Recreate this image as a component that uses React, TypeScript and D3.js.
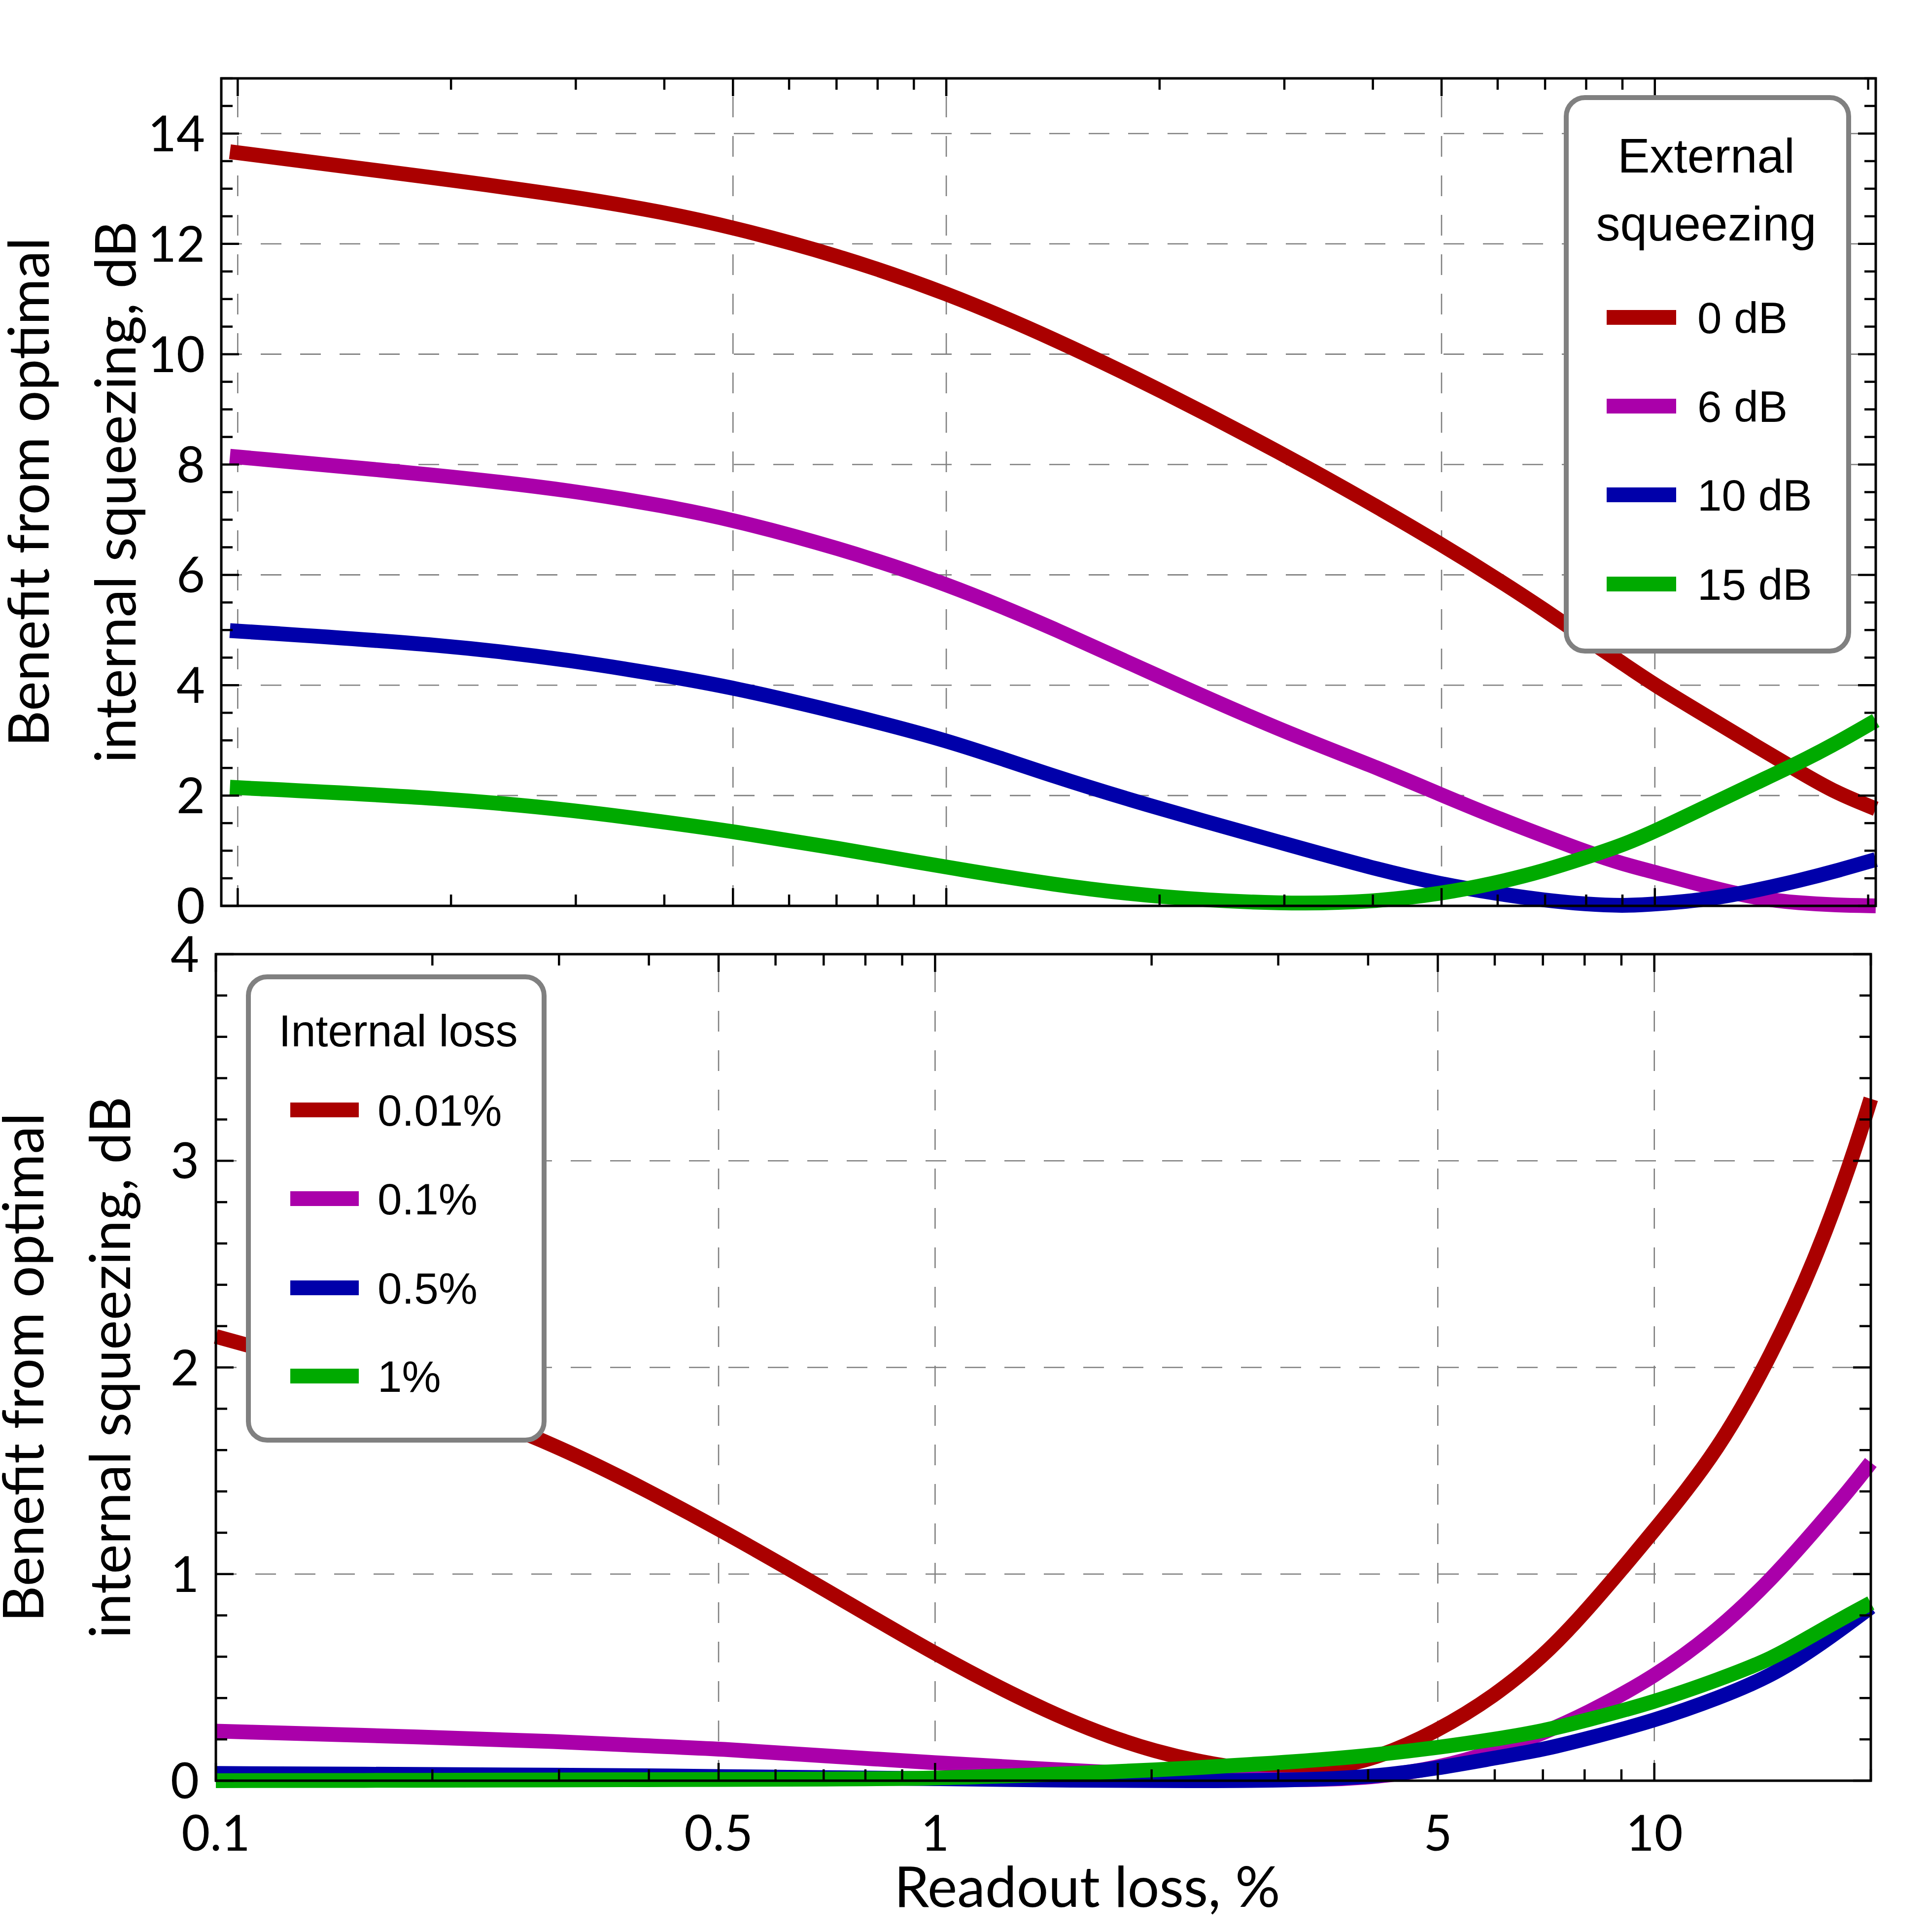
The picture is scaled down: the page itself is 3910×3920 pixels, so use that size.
import React from 'react';
import * as d3 from 'd3';

// ---------- data ----------
const topX = [0.0975, 0.2, 0.3, 0.4, 0.5, 0.7, 1, 1.42, 2, 3, 4, 5, 6, 7, 8, 9, 10, 12, 14, 16, 18, 20.5];
const top0dB = [13.67, 13.16, 12.85, 12.57, 12.3, 11.8, 11.12, 10.28, 9.36, 8.18, 7.28, 6.55, 5.92, 5.36, 4.84, 4.4, 4.0, 3.39, 2.87, 2.43, 2.05, 1.76];
const top6dB = [8.15, 7.79, 7.52, 7.25, 7.0, 6.5, 5.85, 5.03, 4.15, 3.15, 2.54, 2.01, 1.59, 1.26, 0.98, 0.76, 0.61, 0.33, 0.13, 0.05, 0.015, 0.0];
const top10dB = [4.99, 4.73, 4.44, 4.18, 3.96, 3.52, 3.02, 2.34, 1.76, 1.13, 0.68, 0.39, 0.22, 0.1, 0.03, 0.0, 0.03, 0.12, 0.29, 0.46, 0.63, 0.84];
const top15dB = [2.15, 1.95, 1.73, 1.52, 1.35, 1.05, 0.7, 0.38, 0.15, 0.03, 0.07, 0.22, 0.42, 0.64, 0.88, 1.1, 1.35, 1.84, 2.25, 2.6, 2.94, 3.36];
const topLabels = ['0 dB', '6 dB', '10 dB', '15 dB'];

const botX = [0.1, 0.2, 0.3, 0.4, 0.5, 0.7, 1, 1.43, 2, 3, 4, 5, 6, 7, 8, 10, 12.3, 14.6, 16.7, 18.8, 20];
const bot001 = [2.15, 1.86, 1.62, 1.4, 1.22, 0.93, 0.61, 0.33, 0.13, 0.02, 0.085, 0.24, 0.41, 0.6, 0.81, 1.21, 1.6, 2.07, 2.51, 3.0, 3.3];
const bot01 = [0.24, 0.21, 0.19, 0.168, 0.155, 0.12, 0.087, 0.055, 0.03, 0.0, 0.01, 0.06, 0.14, 0.23, 0.32, 0.5, 0.73, 0.98, 1.21, 1.42, 1.54];
const bot05 = [0.035, 0.03, 0.027, 0.024, 0.02, 0.015, 0.01, 0.003, 0.0, 0.0, 0.015, 0.06, 0.11, 0.15, 0.2, 0.29, 0.4, 0.51, 0.64, 0.77, 0.84];
const bot1 = [0.0, 0.002, 0.004, 0.005, 0.006, 0.008, 0.01, 0.03, 0.05, 0.085, 0.12, 0.16, 0.2, 0.24, 0.29, 0.38, 0.49, 0.59, 0.71, 0.81, 0.86];
const botLabels = ['0.01%', '0.1%', '0.5%', '1%'];

const colors = ['#aa0000', '#aa00aa', '#0000aa', '#00aa00'];

const xMajor = [0.1, 0.5, 1, 5, 10];
const xMajorLabels = ['0.1', '0.5', '1', '5', '10'];
const xMinor = [0.2, 0.3, 0.4, 0.6, 0.7, 0.8, 0.9, 2, 3, 4, 6, 7, 8, 9, 20];

const topYMajor = [0, 2, 4, 6, 8, 10, 12, 14];
const topYMinor = d3.range(0, 15.01, 0.5).filter((v) => Math.abs(v % 2) > 1e-6);
const botYMajor = [0, 1, 2, 3, 4];
const botYMinor = d3.range(0, 4.01, 0.2).filter((v) => Math.abs(v - Math.round(v)) > 1e-6);

const yLabel1 = 'Benefit from optimal';
const yLabel2 = 'internal squeezing, dB';
const xLabel = 'Readout loss, %';

const axisFont = "Lato, 'DejaVu Sans', sans-serif";
const legendFont = "'Liberation Sans', Arial, sans-serif";

type PanelProps = {
  x: d3.ScaleLogarithmic<number, number>;
  y: d3.ScaleLinear<number, number>;
  xs: number[];
  series: number[][];
  yMajor: number[];
  yMinor: number[];
  yLabelRight: number;
  showXLabels: boolean;
};

function Panel({ x, y, xs, series, yMajor, yMinor, yLabelRight, showXLabels }: PanelProps) {
  const [x0, x1] = x.range();
  const [yb, yt] = y.range();
  const dom = x.domain();
  const inX = (v: number) => v >= dom[0] && v <= dom[1] * 1.0001;
  const line = d3
    .line<number>()
    .x((_, i) => x(xs[i]))
    .y((d) => y(d))
    .curve(d3.curveBasis);
  const majL = 36;
  const minL = 23;
  const tickW = 4.5;
  return (
    <g>
      {/* grid */}
      <g stroke="#808080" strokeWidth={2.6} strokeDasharray="42,38" fill="none">
        {xMajor.filter(inX).map((v) => (
          <line key={'gx' + v} x1={x(v)} x2={x(v)} y1={yb} y2={yt} />
        ))}
        {yMajor.map((v) => (
          <line key={'gy' + v} x1={x0} x2={x1} y1={y(v)} y2={y(v)} />
        ))}
      </g>
      {/* series */}
      {series.map((s, i) => (
        <path key={'s' + i} d={line(s) || ''} fill="none" stroke={colors[i]} strokeWidth={30} strokeLinecap="butt" strokeLinejoin="round" />
      ))}
      {/* frame and ticks */}
      <rect x={x0} y={yt} width={x1 - x0} height={yb - yt} fill="none" stroke="#000" strokeWidth={5} />
      <g stroke="#000" strokeWidth={tickW}>
        {xMajor.filter(inX).map((v) => (
          <g key={'tx' + v}>
            <line x1={x(v)} x2={x(v)} y1={yb} y2={yb - majL} />
            <line x1={x(v)} x2={x(v)} y1={yt} y2={yt + majL} />
          </g>
        ))}
        {xMinor.filter(inX).map((v) => (
          <g key={'tmx' + v}>
            <line x1={x(v)} x2={x(v)} y1={yb} y2={yb - minL} />
            <line x1={x(v)} x2={x(v)} y1={yt} y2={yt + minL} />
          </g>
        ))}
        {yMajor.map((v) => (
          <g key={'ty' + v}>
            <line x1={x0} x2={x0 + majL} y1={y(v)} y2={y(v)} />
            <line x1={x1} x2={x1 - majL} y1={y(v)} y2={y(v)} />
          </g>
        ))}
        {yMinor.map((v) => (
          <g key={'tmy' + v}>
            <line x1={x0} x2={x0 + minL} y1={y(v)} y2={y(v)} />
            <line x1={x1} x2={x1 - minL} y1={y(v)} y2={y(v)} />
          </g>
        ))}
      </g>
      {/* y tick labels */}
      <g fontFamily={axisFont} fontSize={100} fill="#000" textAnchor="end">
        {yMajor.map((v) => (
          <text key={'yl' + v} x={yLabelRight} y={y(v) + 36}>
            {String(v)}
          </text>
        ))}
      </g>
      {showXLabels && (
        <g fontFamily={axisFont} fontSize={100} fill="#000" textAnchor="middle">
          {xMajor.map((v, i) => (
            <text key={'xl' + v} x={x(v)} y={yb + 142}>
              {xMajorLabels[i]}
            </text>
          ))}
        </g>
      )}
      {/* y axis title */}
      <g fontFamily={axisFont} fontSize={114} fill="#000" textAnchor="middle">
        <text transform={`translate(${x0 - 350},${(yb + yt) / 2}) rotate(-90)`}>{yLabel1}</text>
        <text transform={`translate(${x0 - 174},${(yb + yt) / 2}) rotate(-90)`}>{yLabel2}</text>
      </g>
    </g>
  );
}

type LegendProps = {
  bx: number;
  by: number;
  bw: number;
  bh: number;
  titleLines: string[];
  titleX: number;
  titleBaselines: number[];
  titleSize: number;
  labels: string[];
  rows: number[];
  hx0: number;
  hx1: number;
  tx: number;
  labelSize: number;
};

function Legend(p: LegendProps) {
  return (
    <g>
      <rect x={p.bx} y={p.by} width={p.bw} height={p.bh} rx={38} ry={38} fill="#fff" stroke="#808080" strokeWidth={10} />
      <g fontFamily={legendFont} fill="#000">
        {p.titleLines.map((t, i) => (
          <text key={'t' + i} x={p.titleX} y={p.titleBaselines[i]} fontSize={p.titleSize} textAnchor="middle">
            {t}
          </text>
        ))}
        {p.labels.map((l, i) => (
          <g key={'l' + i}>
            <line x1={p.hx0} x2={p.hx1} y1={p.rows[i]} y2={p.rows[i]} stroke={colors[i]} strokeWidth={30} />
            <text x={p.tx} y={p.rows[i] + 0.36 * p.labelSize} fontSize={p.labelSize}>
              {l}
            </text>
          </g>
        ))}
      </g>
    </g>
  );
}

export default function App() {
  const W = 3910;
  const H = 3920;
  const xTop = d3.scaleLog().domain([0.0948, 20.5]).range([449, 3806]);
  const yTop = d3.scaleLinear().domain([0, 15]).range([1838, 159]);
  const xBot = d3.scaleLog().domain([0.1, 20]).range([438, 3796]);
  const yBot = d3.scaleLinear().domain([0, 4]).range([3613, 1936]);

  return (
    <svg width={W} height={H} style={{ position: 'absolute', left: 0, top: 0, background: '#fff' }}>
      <rect x={0} y={0} width={W} height={H} fill="#fff" />
      <Panel
        x={xTop}
        y={yTop}
        xs={topX}
        series={[top0dB, top6dB, top10dB, top15dB]}
        yMajor={topYMajor}
        yMinor={topYMinor}
        yLabelRight={416}
        showXLabels={false}
      />
      <Panel
        x={xBot}
        y={yBot}
        xs={botX}
        series={[bot001, bot01, bot05, bot1]}
        yMajor={botYMajor}
        yMinor={botYMinor}
        yLabelRight={404}
        showXLabels={true}
      />
      <text x={2206} y={3869} fontFamily={axisFont} fontSize={114} textAnchor="middle" fill="#000">
        {xLabel}
      </text>
      <Legend
        bx={3178}
        by={198}
        bw={573}
        bh={1123}
        titleLines={['External', 'squeezing']}
        titleX={3462}
        titleBaselines={[350, 488]}
        titleSize={98}
        labels={topLabels}
        rows={[644, 824, 1004, 1185]}
        hx0={3260}
        hx1={3401}
        tx={3444}
        labelSize={89}
      />
      <Legend
        bx={504}
        by={1982}
        bw={600}
        bh={940}
        titleLines={['Internal loss']}
        titleX={808}
        titleBaselines={[2123]}
        titleSize={90}
        labels={botLabels}
        rows={[2252, 2432, 2613, 2792]}
        hx0={589}
        hx1={728}
        tx={766}
        labelSize={89}
      />
    </svg>
  );
}
